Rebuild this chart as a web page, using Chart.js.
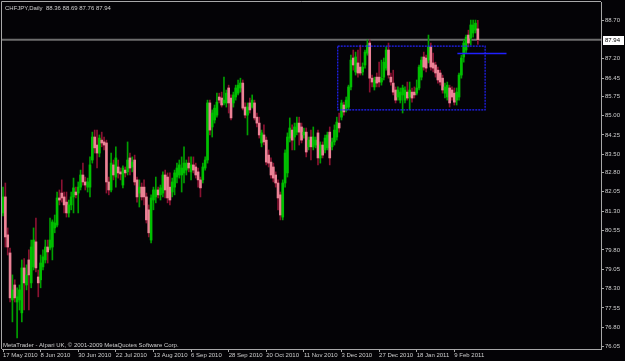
<!DOCTYPE html>
<html>
<head>
<meta charset="utf-8">
<script src="https://cdn.jsdelivr.net/npm/chart.js@4.4.1/dist/chart.umd.min.js"></script>
<style>
  html, body { margin: 0; padding: 0; background: #000; }
</style>
</head>
<body>
<canvas id="chart" width="625" height="361"></canvas>
<script>
// CHFJPY daily, 17 May 2010 - late Feb 2011
const symbol = 'CHFJPY,Daily';

const opens = [
  81.23, 81.85, 80.38, 79.68, 77.86, 78.44, 77.78, 77.86, 77.36, 79.10,
  78.44, 79.41, 78.52, 79.14, 80.11, 78.75, 78.64, 79.14, 79.41, 79.91,
  79.87, 79.91, 80.65, 80.76, 81.81, 82.00, 81.85, 81.65, 81.23, 81.54,
  81.85, 82.04, 82.00, 82.23, 82.70, 82.43, 82.23, 82.23, 83.28, 84.17,
  83.86, 83.55, 84.05, 83.98, 83.94, 82.43, 82.12, 83.09, 82.62, 83.01,
  82.82, 82.31, 82.89, 82.82, 83.36, 83.01, 83.28, 82.51, 82.00, 82.23,
  82.23, 81.85, 81.35, 80.18, 81.73, 81.85, 82.12, 81.93, 82.00, 82.70,
  82.62, 82.23, 82.04, 82.23, 82.62, 82.70, 82.70, 82.78, 82.89, 83.16,
  82.82, 83.09, 83.01, 82.82, 82.51, 82.51, 82.97, 83.28, 85.49, 84.56,
  84.83, 85.02, 85.72, 85.68, 85.49, 85.49, 86.07, 85.68, 85.49, 85.72,
  85.87, 86.07, 86.26, 85.33, 85.02, 85.49, 85.33, 85.49, 84.94, 84.71,
  83.94, 84.25, 84.05, 83.47, 83.20, 83.01, 82.70, 82.39, 81.93, 81.07,
  82.39, 82.78, 84.13, 84.44, 84.17, 84.36, 84.71, 84.56, 84.25, 84.36,
  83.79, 84.17, 83.79, 83.86, 84.33, 83.36, 83.86, 83.67, 83.75, 84.36,
  83.79, 83.98, 84.17, 84.71, 84.94, 85.41, 85.29, 85.33, 86.11, 87.23,
  86.69, 87.04, 86.88, 86.69, 86.96, 87.42, 87.81, 86.45, 86.11, 86.49,
  86.49, 86.30, 86.49, 86.84, 87.54, 86.49, 86.26, 85.99, 85.72, 85.60,
  85.80, 85.60, 85.91, 85.72, 85.91, 85.91, 85.87, 86.07, 86.49, 87.27,
  87.23, 87.15, 87.66, 87.04, 86.96, 86.76, 86.65, 86.45, 85.87, 85.72,
  86.07, 85.99, 85.87, 85.60, 85.72, 86.57, 87.27, 87.54, 88.12, 88.00,
  88.20, 88.31, 88.36
];

const highs = [
  82.23, 82.39, 80.65, 79.87, 78.83, 78.64, 78.33, 78.44, 79.41, 79.46,
  79.22, 79.80, 80.18, 80.65, 81.03, 79.02, 79.60, 79.80, 80.18, 80.18,
  81.03, 80.96, 81.15, 82.04, 82.12, 82.51, 82.04, 82.04, 81.73, 82.04,
  82.58, 82.23, 82.43, 82.89, 83.16, 82.62, 82.58, 83.40, 84.36, 84.44,
  84.44, 84.25, 84.36, 84.17, 84.05, 82.62, 83.55, 83.28, 83.79, 83.28,
  82.97, 83.05, 83.01, 83.98, 83.55, 83.40, 83.47, 82.62, 82.51, 82.39,
  82.51, 82.00, 81.54, 81.93, 82.23, 82.62, 82.23, 82.31, 82.82, 82.89,
  82.78, 82.78, 82.58, 82.89, 83.16, 83.28, 83.40, 83.79, 83.28, 83.40,
  83.40, 83.40, 83.16, 82.97, 82.62, 83.16, 83.40, 85.60, 85.60, 85.22,
  85.41, 85.87, 85.87, 85.91, 86.49, 85.99, 86.18, 85.80, 85.91, 86.18,
  86.38, 86.45, 86.38, 85.49, 85.49, 85.68, 85.80, 85.60, 85.10, 84.94,
  84.44, 84.64, 84.17, 83.67, 83.36, 83.16, 82.82, 82.51, 82.04, 82.51,
  83.67, 84.33, 84.91, 84.64, 84.71, 84.94, 84.94, 84.71, 84.52, 84.52,
  84.17, 84.44, 84.56, 84.17, 84.44, 83.98, 83.98, 84.25, 84.36, 84.56,
  84.13, 84.64, 84.94, 85.10, 85.60, 85.52, 85.72, 86.18, 87.34, 87.54,
  87.46, 87.54, 87.73, 87.04, 87.54, 87.93, 87.93, 86.57, 86.49, 86.65,
  87.07, 87.15, 87.23, 87.66, 87.81, 86.65, 86.76, 86.11, 86.11, 86.07,
  86.18, 86.11, 86.30, 86.30, 86.07, 86.11, 86.38, 86.96, 87.27, 87.46,
  87.34, 88.12, 87.81, 87.42, 87.07, 86.88, 86.76, 86.57, 86.26, 86.30,
  86.18, 86.11, 86.07, 86.07, 86.65, 87.34, 87.93, 88.12, 88.31, 88.70,
  88.70, 88.70, 88.69
];

const lows = [
  81.11, 79.91, 79.60, 77.78, 77.01, 77.78, 76.39, 77.47, 77.01, 77.47,
  78.25, 77.47, 78.33, 79.02, 78.95, 77.98, 78.33, 79.02, 79.29, 79.29,
  79.80, 79.41, 80.46, 80.69, 81.54, 81.65, 81.23, 81.07, 81.07, 81.35,
  81.23, 81.81, 81.23, 82.12, 82.31, 82.12, 82.04, 81.85, 83.16, 83.55,
  82.97, 83.40, 83.79, 83.67, 82.00, 81.93, 82.04, 82.51, 82.23, 82.58,
  82.51, 82.20, 82.62, 82.70, 82.70, 82.82, 82.31, 81.65, 81.46, 81.73,
  81.54, 80.84, 80.30, 80.07, 81.35, 81.62, 81.81, 81.73, 81.85, 81.81,
  81.62, 81.54, 81.85, 81.93, 82.39, 82.58, 82.04, 82.39, 82.70, 82.82,
  82.51, 82.78, 82.58, 82.23, 81.85, 82.39, 82.89, 83.16, 84.25, 84.17,
  84.71, 84.94, 85.49, 85.33, 85.41, 85.33, 85.10, 84.83, 85.33, 85.60,
  85.80, 85.91, 85.22, 84.91, 84.25, 85.10, 85.29, 84.83, 84.56, 84.13,
  83.79, 83.86, 83.09, 83.01, 82.58, 82.43, 82.23, 81.35, 80.96, 80.96,
  82.23, 82.62, 83.98, 83.67, 83.67, 84.25, 83.86, 83.94, 84.13, 83.40,
  83.67, 83.28, 83.67, 83.75, 83.09, 83.16, 83.36, 83.55, 83.67, 83.09,
  83.67, 83.86, 84.05, 84.36, 84.83, 85.02, 85.14, 85.22, 85.99, 86.76,
  86.57, 86.49, 86.57, 86.57, 86.84, 87.34, 85.91, 86.11, 85.99, 86.11,
  86.11, 86.18, 86.38, 86.76, 86.45, 86.18, 85.80, 85.49, 85.60, 85.49,
  85.10, 85.49, 85.60, 85.22, 85.52, 85.68, 85.80, 85.99, 86.38, 86.76,
  86.69, 87.04, 86.76, 86.69, 86.49, 86.26, 86.18, 85.87, 85.68, 85.60,
  85.33, 85.60, 85.41, 85.41, 85.60, 86.45, 87.07, 87.42, 87.66, 87.73,
  88.04, 88.20, 87.76
];

const closes = [
  81.85, 80.30, 79.91, 77.94, 78.25, 77.94, 77.98, 78.25, 79.10, 78.52,
  78.83, 78.83, 79.91, 80.18, 79.10, 78.52, 79.29, 79.53, 79.91, 79.72,
  80.18, 80.88, 80.84, 81.81, 81.73, 81.81, 81.54, 81.23, 81.54, 81.85,
  82.20, 81.93, 82.23, 82.70, 82.43, 82.31, 82.43, 83.09, 84.17, 83.75,
  83.55, 84.13, 83.94, 83.86, 82.43, 82.12, 83.16, 82.70, 83.36, 82.78,
  82.74, 82.97, 82.78, 83.28, 82.97, 83.20, 82.43, 81.85, 82.23, 81.85,
  81.85, 80.96, 80.46, 81.81, 82.12, 82.12, 81.93, 82.20, 82.70, 82.12,
  81.81, 81.73, 82.43, 82.78, 82.97, 83.09, 82.97, 83.16, 83.16, 82.97,
  83.09, 82.89, 82.70, 82.51, 82.20, 83.01, 83.28, 85.49, 84.44, 85.10,
  85.29, 85.52, 85.60, 85.41, 85.60, 85.87, 85.49, 84.91, 85.80, 86.07,
  86.18, 86.26, 85.29, 85.02, 85.33, 85.22, 85.60, 84.91, 84.71, 84.25,
  84.33, 83.98, 83.20, 83.16, 82.70, 82.58, 82.39, 81.81, 81.15, 82.39,
  83.55, 84.17, 84.52, 84.05, 84.56, 84.71, 84.36, 84.05, 84.36, 83.59,
  84.05, 83.79, 84.17, 84.05, 83.36, 83.86, 83.47, 84.13, 84.25, 83.36,
  83.98, 84.44, 84.75, 84.52, 85.49, 85.14, 85.60, 86.11, 87.15, 86.96,
  87.27, 86.65, 86.65, 86.88, 87.46, 87.73, 86.45, 86.30, 86.38, 86.26,
  86.30, 86.45, 87.07, 87.54, 86.57, 86.30, 85.91, 85.60, 85.99, 85.91,
  86.07, 85.99, 85.68, 85.99, 85.68, 85.80, 86.07, 86.88, 87.15, 86.88,
  86.84, 87.66, 86.88, 86.84, 86.65, 86.38, 86.30, 85.99, 86.11, 86.18,
  85.49, 85.72, 85.52, 85.91, 86.57, 87.23, 87.81, 88.04, 87.81, 88.51,
  88.51, 88.58, 87.94
];

// date labels, one every 16 bars
const dateLabels = ['17 May 2010', '8 Jun 2010', '30 Jun 2010', '22 Jul 2010', '13 Aug 2010',
  '6 Sep 2010', '28 Sep 2010', '20 Oct 2010', '11 Nov 2010', '3 Dec 2010',
  '27 Dec 2010', '18 Jan 2011', '9 Feb 2011'];
const labelStep = 16;

const priceTicks = [88.70, 87.20, 86.45, 85.75, 85.00, 84.25, 83.50, 82.80, 82.05,
  81.30, 80.55, 79.80, 79.05, 78.30, 77.55, 76.80, 76.05];

// drawn objects: range box and a horizontal line (bar index / price)
const boxX = [142.4, 205.1];
const boxY = [85.22, 87.69];
const hLineX = [193.3, 214.2];
const hLineY = 87.41;

const last = closes.length - 1;
const bull = closes.map((c, i) => c >= opens[i]);

const FONT = 'Liberation Sans';
const TXT = '#cfcfcf';
const AXIS = '#a8a8a8';

const overlay = {
  id: 'overlay',
  beforeDraw(chart) {
    const ctx = chart.ctx;
    ctx.save();
    ctx.fillStyle = '#040306';
    ctx.fillRect(0, 0, chart.width, chart.height);
    ctx.restore();
  },
  beforeDatasetsDraw(chart) {
    const { ctx, chartArea: a, scales: { y } } = chart;
    const py = y.getPixelForValue(closes[last]);
    ctx.save();
    ctx.strokeStyle = '#6c6c6c';
    ctx.lineWidth = 2;
    ctx.beginPath();
    ctx.moveTo(a.left, py);
    ctx.lineTo(a.right, py);
    ctx.stroke();
    ctx.restore();
  },
  afterDraw(chart) {
    const { ctx, chartArea: a, scales: { y } } = chart;
    ctx.save();
    ctx.strokeStyle = AXIS;
    ctx.lineWidth = 1;
    ctx.beginPath();
    ctx.moveTo(a.left - 0.5, a.bottom);
    ctx.lineTo(a.left - 0.5, a.top - 0.5);
    ctx.lineTo(a.right, a.top - 0.5);
    ctx.stroke();

    // current price marker
    const py = Math.round(y.getPixelForValue(closes[last]));
    ctx.fillStyle = '#ffffff';
    ctx.fillRect(a.right + 2, py - 4, 21, 9);
    ctx.fillStyle = '#000000';
    ctx.font = '6px "' + FONT + '"';
    ctx.textBaseline = 'middle';
    ctx.textAlign = 'left';
    ctx.fillText(closes[last].toFixed(2), a.right + 4, py + 0.5);

    // header and copyright
    ctx.fillStyle = TXT;
    ctx.textBaseline = 'top';
    ctx.fillText(symbol + '  ' + [opens[last], highs[last], lows[last], closes[last]]
      .map(v => v.toFixed(2)).join(' '), a.left + 3, a.top + 3);
    ctx.textBaseline = 'bottom';
    ctx.fillText('MetaTrader - Alpari UK, \u00a9 2001-2009 MetaQuotes Software Corp.', a.left + 1, a.bottom - 1);
    ctx.restore();
  }
};

const idx = closes.map((_, i) => i);

new Chart(document.getElementById('chart'), {
  type: 'bar',
  data: {
    datasets: [
      {
        label: 'body',
        data: idx.map(i => ({ x: i, y: [opens[i], closes[i]] })),
        backgroundColor: bull.map(b => b ? '#00c000' : '#ec8296'),
        barThickness: 2,
        grouped: false
      },
      {
        label: 'wick',
        data: idx.map(i => ({ x: i, y: [lows[i], highs[i]] })),
        backgroundColor: bull.map(b => b ? '#00a000' : '#8a1232'),
        barThickness: 1,
        grouped: false
      },
      {
        type: 'line',
        label: 'range',
        order: -1,
        data: [
          { x: boxX[0], y: boxY[1] }, { x: boxX[1], y: boxY[1] },
          { x: boxX[1], y: boxY[0] }, { x: boxX[0], y: boxY[0] },
          { x: boxX[0], y: boxY[1] }
        ],
        borderColor: '#2222ff',
        borderWidth: 1.2,
        borderDash: [2, 1],
        pointRadius: 0,
        fill: false,
        tension: 0
      },
      {
        type: 'line',
        label: 'level',
        order: -1,
        data: [{ x: hLineX[0], y: hLineY }, { x: hLineX[1], y: hLineY }],
        borderColor: '#2020ff',
        borderWidth: 1.5,
        pointRadius: 0,
        fill: false
      }
    ]
  },
  options: {
    responsive: false,
    animation: false,
    layout: { padding: { left: 2, top: 2, right: 0, bottom: 0 } },
    plugins: { legend: { display: false }, tooltip: { enabled: false } },
    scales: {
      x: {
        type: 'linear',
        offset: false,
        min: -0.43,
        max: 254.4,
        grid: { display: true, offset: false, drawOnChartArea: false, drawTicks: true, tickLength: 3, color: AXIS },
        border: { display: true, color: AXIS },
        afterBuildTicks: s => { s.ticks = dateLabels.map((_, k) => ({ value: k * labelStep })); },
        afterFit: s => { s.height = 12; s.paddingLeft = 0; s.paddingRight = 0; },
        ticks: {
          align: 'start',
          autoSkip: false,
          maxRotation: 0,
          padding: 0,
          color: TXT,
          font: { family: FONT, size: 6 },
          callback: v => dateLabels[Math.round(v / labelStep)]
        }
      },
      y: {
        position: 'right',
        min: 75.96,
        max: 89.40,
        grid: { display: true, drawOnChartArea: false, drawTicks: true, tickLength: 3, color: AXIS },
        border: { display: true, color: AXIS },
        afterBuildTicks: s => { s.ticks = priceTicks.map(v => ({ value: v })); },
        afterFit: s => { s.width = 24; s.paddingTop = 0; s.paddingBottom = 0; },
        ticks: {
          padding: 1,
          color: TXT,
          font: { family: FONT, size: 6 },
          callback: v => v.toFixed(2)
        }
      }
    }
  },
  plugins: [overlay]
});
</script>
</body>
</html>
